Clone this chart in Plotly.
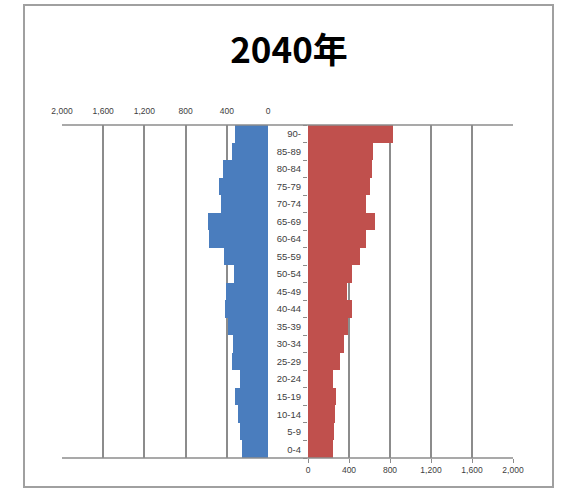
import plotly.graph_objects as go

# age groups, bottom to top
ages = ["0-4", "5-9", "10-14", "15-19", "20-24", "25-29", "30-34", "35-39",
        "40-44", "45-49", "50-54", "55-59", "60-64", "65-69", "70-74",
        "75-79", "80-84", "85-89", "90-"]
male = [257, 273, 289, 322, 273, 354, 338, 387, 420, 410, 335, 425,
        575, 582, 455, 478, 436, 345, 322]
female = [241, 254, 263, 273, 241, 312, 351, 393, 426, 377, 426, 510,
          568, 658, 570, 605, 628, 637, 832]
tick_vals = [0, 400, 800, 1200, 1600, 2000]
tick_text = ["0", "400", "800", "1,200", "1,600", "2,000"]
title = "2040年"

W, H = 564, 491
BLUE = "#4A7DBE"
RED = "#C0504D"
GRID = "#8c8c8c"
TXT = "#404040"
FONT = "Liberation Sans"


def px(x):
    return x / W


def py(y):
    return 1 - y / H


top, bottom = 125, 458

fig = go.Figure()
fig.add_trace(go.Bar(y=ages, x=male, orientation="h", marker=dict(color=BLUE, line_width=0),
                     xaxis="x", yaxis="y", showlegend=False))
fig.add_trace(go.Bar(y=ages, x=female, orientation="h", marker=dict(color=RED, line_width=0),
                     xaxis="x2", yaxis="y2", showlegend=False))

axis_common = dict(tickvals=tick_vals, ticktext=tick_text, showgrid=True, gridcolor=GRID,
                   gridwidth=1.5, zeroline=False, tickfont=dict(family=FONT, size=8.5, color=TXT),
                   fixedrange=True, automargin=False)

fig.update_layout(
    width=W, height=H,
    autosize=False,
    margin=dict(l=0, r=0, t=0, b=0, pad=0),
    paper_bgcolor="white", plot_bgcolor="white",
    bargap=0,
    xaxis=dict(domain=[px(62), px(268)], range=[2000, 0], side="top", anchor="y",
               ticks="inside", ticklen=4, tickcolor=GRID, ticklabelstandoff=8, **axis_common),
    yaxis=dict(domain=[py(bottom), py(top)], range=[-0.5, 18.5], showticklabels=False,
               showgrid=False, zeroline=False, fixedrange=True, automargin=False),
    xaxis2=dict(domain=[px(308), px(513)], range=[0, 2000], side="bottom", anchor="y2",
                ticks="outside", ticklen=4, tickcolor=GRID, **axis_common),
    yaxis2=dict(domain=[py(bottom), py(top)], range=[-0.5, 18.5], anchor="x2",
                showgrid=False, zeroline=False, ticks="outside", ticklen=4, tickcolor=GRID,
                tickson="boundaries", ticklabelstandoff=6, automargin=False,
                tickfont=dict(family=FONT, size=9.5, color=TXT), fixedrange=True),
    title=dict(text="<b>" + title + "</b>", x=px(289), xanchor="center", y=py(51), yanchor="middle",
               font=dict(family="Noto Sans CJK JP", size=35, color="black")),
)

# frame lines across both panels and outer border
line = dict(color=GRID, width=1.5)
fig.add_shape(type="line", xref="paper", yref="paper", x0=px(62), x1=px(513), y0=py(top), y1=py(top), line=line)
fig.add_shape(type="line", xref="paper", yref="paper", x0=px(62), x1=px(513), y0=py(bottom), y1=py(bottom), line=line)
fig.add_shape(type="rect", xref="paper", yref="paper", x0=px(24), x1=px(553), y0=py(487), y1=py(5),
              line=dict(color="#a0a0a0", width=2))

# drop the default page margin so the figure sits at the window's corner
fig.write_html("out.html", config={"displayModeBar": False},
               post_script="document.body.style.margin='0';")
